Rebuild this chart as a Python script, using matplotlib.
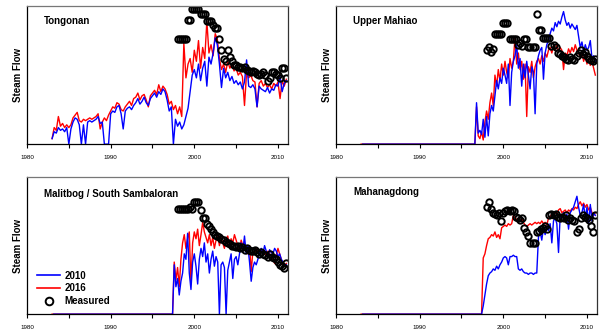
import numpy as np
import matplotlib.pyplot as plt
from matplotlib.lines import Line2D

plt.rcParams['font.family'] = ['Liberation Sans', 'DejaVu Sans']

# ---- Tongonan: simulated flows quarterly from 1983.0 ----
tong_start = 1983.0
tong_2010 = [4, 9, 8, 12,  10, 11, 9, 12,  0, 11, 16, 19,  18, 14, 0, 14,
             0, 16, 17, 16,  17, 18, 20, 15,  16, 0, 0, 0,  22, 24, 23, 27,
             28, 22, 11, 24,  26, 27, 25, 28,  30, 33, 29, 31,  34, 30, 28, 33,
             35, 37, 34, 38,  36, 40, 38, 32,  24, 27, 0, 18,  13, 16, 11, 14,
             20, 26, 38, 50,  54, 48, 58, 46,  55, 60, 42, 63,  58, 66, 77, 72,
             58, 41, 55, 48,  52, 46, 49, 44,  46, 43, 45, 40,  45, 61, 42, 41,
             43, 40, 27, 42,  40, 39, 38, 41,  37, 40, 39, 43,  42, 49, 38, 44,
             46]
tong_2016 = [4, 12, 10, 20,  13, 15, 12, 14,  12, 14, 19, 21,  23, 17, 16, 18,
             17, 18, 19, 18,  19, 20, 22, 11,  16, 19, 17, 21,  24, 27, 26, 30,
             29, 25, 24, 27,  29, 31, 28, 33,  34, 37, 32, 35,  36, 32, 27, 35,
             37, 39, 36, 43,  38, 42, 40, 36,  29, 31, 25, 28,  22, 27, 20, 73,
             48, 58, 62, 52,  68, 60, 75, 55,  70, 62, 89, 66,  72, 64, 80, 76,
             62, 54, 58, 52,  60, 55, 58, 53,  55, 50, 52, 49,  28, 52, 48, 50,
             46, 45, 27, 44,  46, 42, 44, 41,  43, 40, 44, 42,  45, 33, 46, 42,
             47]
# measured, quarterly from 1998.0
tong_meas = [76, 76, 76, 76,  76, 90, 90, 98,  98, 98, 98, 94,  94, 94, 89, 89,
             89, 86, 84, 84,  76, 68, 62, 60,  68, 63, 60, 57,  57, 56, 56, 55,
             56, 54, 53, 52,  53, 52, 51, 50,  51, 52, 50, 46,  48, 52, 52, 51,
             50, 48, 55, 55,  48]

# ---- Upper Mahiao: simulated every 0.2 yr from 1996.0 ----
um_start = 1996.0
um_2010 = [0, 0, 0, 0, 30,  8, 10, 7, 18, 5,  20, 6, 22, 28, 24,  35, 46, 40, 48, 44,
           55, 50, 44, 58, 28,  52, 60, 64, 72, 55,  62, 42, 58, 48, 60,
           50, 40, 56, 52, 22,  58, 64, 68, 70, 47,  66, 72, 75, 80, 84,
           82, 88, 85, 89, 87,  92, 96, 90, 86, 88,  84, 87, 85, 83, 86,
           78, 70, 74, 67, 72,  68, 70, 75, 62, 64,  60]
um_2016 = [0, 0, 0, 0, 27,  6, 4, 9, 3, 16,  24, 18, 30, 37, 28,  50, 42, 54, 46, 58,
           50, 60, 52, 48, 62,  55, 60, 78, 58, 66,  54, 60, 47, 58, 20,
           56, 52, 60, 48, 56,  60, 62, 58, 64, 60,  66, 63, 68, 70, 66,
           71, 68, 72, 67, 70,  68, 54, 66, 64, 69,  66, 70, 67, 72, 68,
           66, 63, 67, 60, 64,  58, 62, 57, 60, 55,  50]
um_meas = [68, 70, 67, 69,  80, 80, 80, 80,  88, 88, 88, 76,  76, 76, 76, 72,
           73, 71, 76, 76,  70, 70, 70, 70,  94, 83, 83, 77,  77, 77, 77, 71,
           72, 70, 66, 65,  64, 63, 62, 61,  63, 62, 61, 64,  66, 68, 65, 67,
           64, 62, 61, 60,  62]

# ---- Malitbog / South Sambaloran: every 0.2 yr from 1997.0 ----
mal_start = 1997.0
mal_2010 = [0, 0, 0, 36, 20,  26, 14, 24, 30, 44,  40, 59, 30, 18, 38,
            44, 35, 22, 40, 48,  42, 52, 38, 44, 30,  40, 46, 35, 42, 38,
            0, 36, 38, 34, 0,  32, 38, 44, 26, 40,  42, 36, 44, 52, 46,
            57, 44, 50, 38, 24,  34, 38, 36, 40, 45,  48, 44, 50, 46, 42,
            47, 45, 44, 48, 46,  42, 44, 40, 38, 35,  36]
mal_2016 = [0, 0, 0, 38, 25,  34, 20, 40, 52, 58,  48, 55, 60, 22, 52,
            60, 55, 62, 50, 58,  67, 60, 56, 52, 58,  50, 56, 48, 54, 58,
            50, 56, 52, 48, 55,  57, 50, 55, 52, 58,  54, 50, 46, 54, 50,
            52, 48, 44, 50, 31,  46, 44, 48, 46, 44,  46, 47, 45, 43, 46,
            44, 42, 40, 37, 43,  48, 44, 40, 36, 35,  37]
mal_meas = [77, 77, 77, 77,  77, 77, 78, 77,  82, 82, 82, 76,  70, 70, 66, 64,
            62, 60, 58, 57,  56, 55, 54, 53,  52, 51, 50, 50,  49, 50, 48, 49,
            47, 48, 47, 46,  46, 47, 45, 44,  45, 44, 43, 42,  44, 42, 41, 40,
            38, 36, 35, 34,  37]

# ---- Mahanagdong: every 0.2 yr from 1997.0 ----
mah_start = 1997.0
mah_2010 = [0, 0, 0, 6, 14,  22, 28, 30, 31, 33,  32, 35, 33, 36, 38,
            41, 42, 41, 36, 42,  42, 43, 42, 42, 33,  32, 33, 31, 30, 30,
            29, 30, 30, 29, 30,  30, 56, 60, 54, 63,  58, 64, 61, 66, 52,
            68, 70, 66, 45, 72,  70, 74, 71, 73, 62,  74, 76, 78, 82, 86,
            78, 72, 74, 80, 70,  78, 66, 80, 68, 74,  72]
mah_2016 = [0, 0, 0, 41, 44,  50, 55, 56, 58, 57,  60, 56, 58, 55, 63,
            64, 65, 64, 66, 65,  66, 72, 70, 69, 70,  68, 70, 67, 65, 64,
            65, 66, 65, 66, 67,  66, 67, 66, 68, 66,  67, 65, 70, 71, 73,
            72, 74, 73, 76, 77,  74, 75, 76, 74, 76,  75, 77, 76, 78, 77,
            80, 82, 79, 81, 78,  80, 76, 78, 74, 72,  74]
mah_meas = [78, 82, 77, 74,  73, 72, 74, 68,  74, 75, 76, 75,  76, 75, 71, 70,
            69, 70, 63, 60,  57, 52, 52, 52,  60, 61, 62, 63,  64, 62, 72, 73,
            72, 73, 71, 70,  71, 70, 72, 69,  70, 69, 68, 60,  62, 70, 72, 71,
            70, 69, 64, 60,  72]

meas_start = 1998.0


def years(start, step, vals):
    return start + step * np.arange(len(vals))


def draw_panel(ax, name, start, step, blue, red, meas, ylab_y=0.89):
    xb = years(start, step, blue)
    xr = years(start, step, red)
    # flat zero run-up back to 1983
    if start > 1983.5:
        xb = np.r_[1983.2, xb]
        blue = [0] + list(blue)
        xr = np.r_[1983.0, xr]
        red = [0] + list(red)
    ax.plot(xr, red, color='#ff0000', lw=1.0)
    ax.plot(xb, blue, color='#0000ff', lw=1.0)
    ax.plot(years(meas_start, 0.25, meas), meas, 'o', mfc='none', mec='black',
            ms=4.6, mew=1.4)

    ax.set_xlim(1980, 2011.2)
    ax.set_ylim(0, 100)
    ax.set_yticks([])
    ax.set_xticks([1980, 1985, 1990, 1995, 2000, 2005, 2010])
    ax.set_xticklabels(['1980', '', '1990', '', '2000', '', '2010'])
    ax.tick_params(axis='x', length=3, width=0.8, labelsize=4.5, pad=5)
    ax.set_ylabel('Steam Flow', fontsize=7, fontweight='bold', labelpad=3)
    ax.text(0.065, ylab_y, name, transform=ax.transAxes, fontsize=7,
            fontweight='bold', va='center')
    ax.spines['top'].set_color('#777777')
    ax.spines['right'].set_color('#333333')
    for s in ax.spines.values():
        s.set_linewidth(0.9)


fig = plt.figure(figsize=(6, 3.36), dpi=100)
ax1 = fig.add_axes([0.045, 0.571, 0.435, 0.411])
ax2 = fig.add_axes([0.56, 0.571, 0.435, 0.411])
ax3 = fig.add_axes([0.045, 0.065, 0.435, 0.408])
ax4 = fig.add_axes([0.56, 0.065, 0.435, 0.408])

draw_panel(ax1, 'Tongonan', tong_start, 0.25, tong_2010, tong_2016, tong_meas)
draw_panel(ax2, 'Upper Mahiao', um_start, 0.2, um_2010, um_2016, um_meas)
draw_panel(ax3, 'Malitbog / South Sambaloran', mal_start, 0.2, mal_2010,
           mal_2016, mal_meas, ylab_y=0.876)
draw_panel(ax4, 'Mahanagdong', mah_start, 0.2, mah_2010, mah_2016, mah_meas)

# legend in the lower left panel
handles = [Line2D([], [], color='#0000ff', lw=1.2),
           Line2D([], [], color='#ff0000', lw=1.2),
           Line2D([], [], ls='none', marker='o', mfc='none', mec='black',
                  ms=5.5, mew=1.4)]
ax3.legend(handles, ['2010', '2016', 'Measured'], loc='lower left',
           bbox_to_anchor=(0.01, 0.0), frameon=False,
           prop={'weight': 'bold', 'size': 7}, handlelength=2.3,
           labelspacing=0.3, handletextpad=0.5, borderaxespad=0.4)

fig.savefig('out.png', dpi=100)
